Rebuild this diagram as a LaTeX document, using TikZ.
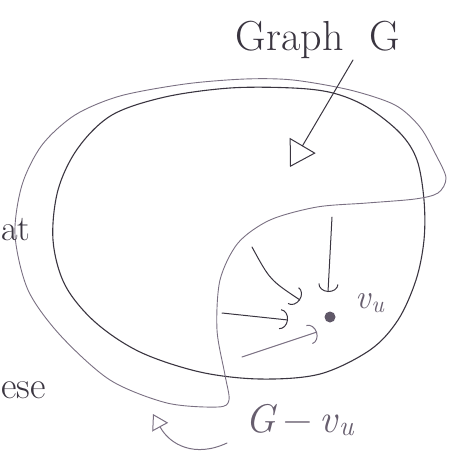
\documentclass[tikz,border=0pt]{standalone}
\usepackage{fontspec}
\usetikzlibrary{arrows.meta}
\definecolor{ink}{HTML}{3A3540}
\definecolor{pencil}{HTML}{7A7082}
\tikzset{
  darkline/.style={draw=ink, line width=1.1pt, line join=round, line cap=round},
  lightline/.style={draw=pencil, line width=0.9pt, line join=round, line cap=round},
  hand/.style={text=ink, inner sep=0pt},
  pointer/.style={draw=ink, line width=1pt, line cap=round},
}
\newcommand{\vsub}{\textit{v}\textsubscript{\textit{u}}}
\begin{document}
\begin{tikzpicture}[x=1pt,y=-1pt]
\useasboundingbox (0,0) rectangle (458,456);
% graph G (closed curve)
\draw[darkline] plot[smooth cycle, tension=0.55] coordinates {
 (293,88) (333,93) (367,107) (400,133) (417,160) (424,200) (424,240) (416,280)
 (398,320) (370,350) (320,374) (260,379) (200,372) (140,352) (95,322) (65,285)
 (53,240) (58,190) (78,148) (112,115) (165,97) (230,88)};
% G - v_u region
\draw[lightline] plot[smooth cycle, tension=0.5] coordinates {
 (293,80) (350,90) (395,105) (420,127) (436,155) (446,178) (438,193) (415,199)
 (367,203) (317,207) (270,220) (238,243) (220,280) (217,330) (225,375) (229,400)
 (218,407) (167,403) (110,380) (60,335) (28,290) (15,235) (22,185) (42,145)
 (75,115) (120,96) (185,84) (245,79)};
% labels
\node[hand, font=\fontsize{42}{46}\selectfont] (graphG) at (318,40) {Graph\hspace{26pt}G};
\node[hand, text=pencil!70!ink, font=\fontsize{34}{38}\selectfont] (vlabel) at (370,303) {\vsub};
\node[hand, text=pencil!70!ink, font=\fontsize{40}{44}\selectfont] (gminus) at (300,420) {\textit{G}\,−\,\vsub};
\node[hand, font=\fontsize{36}{40}\selectfont, anchor=west] (at) at (1,230) {at};
\node[hand, font=\fontsize{38}{42}\selectfont, anchor=west] (ese) at (1,390) {ese};
% vertex v_u
\node[circle, fill=pencil!60!ink, inner sep=0pt, minimum size=11pt] (vu) at (330,317) {};
% pointer to G
\coordinate (gstart) at (353,60);
\coordinate (gtip) at (290,167);
\draw[pointer, -{Triangle[open, length=25pt, width=30pt]}] (gstart) -- (gtip);
% arrows into v_u
\coordinate (a1s) at (332,217); \coordinate (a1e) at (328,292);
\coordinate (a2s) at (252,247); \coordinate (a2e) at (300,300);
\coordinate (a3s) at (222,313); \coordinate (a3e) at (288,320);
\coordinate (a4s) at (242,357); \coordinate (a4e) at (317,332);
\tikzset{inarrow/.style={pointer, -{Arc Barb[length=8pt, width=20pt]}}}
\draw[inarrow] (a1s) -- (a1e);
\draw[inarrow] (a2s) .. controls (270,280) .. (a2e);
\draw[inarrow] (a3s) -- (a3e);
\draw[inarrow, draw=pencil] (a4s) -- (a4e);
% pointer to G - v_u region
\coordinate (hs) at (227,443);
\coordinate (he) at (153,414);
\draw[pointer, draw=pencil, -{Triangle[open, length=15pt, width=18pt]}] (hs) .. controls (195,458) and (170,445) .. (he);
\end{tikzpicture}
\end{document}
